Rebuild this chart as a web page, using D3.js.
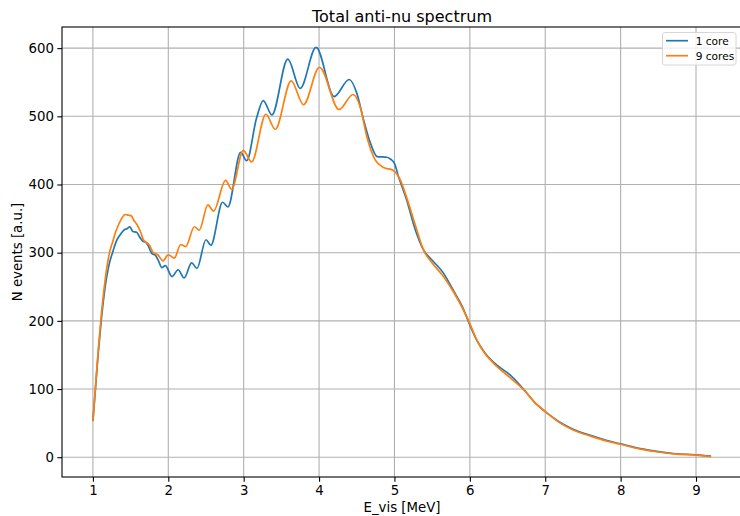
<!DOCTYPE html>
<html>
<head>
<meta charset="utf-8">
<script src="https://cdn.jsdelivr.net/npm/d3@7"></script>
<style>
  body { margin: 0; background: #fff; }
  svg { display: block; }
  text { font-family: "DejaVu Sans", sans-serif; fill: #000; }
</style>
</head>
<body>
<svg id="chart" width="740" height="516"></svg>
<script>
// Visible energy (MeV) and event counts for the single-core spectrum
const energyOneCore = [
  1.00, 1.03, 1.07, 1.11, 1.16, 1.22, 1.26, 1.32, 1.36, 1.42, 1.45, 1.49, 1.53, 1.58, 1.62,
  1.66, 1.70, 1.73, 1.78, 1.83, 1.87, 1.915, 1.96, 2.05, 2.13, 2.21, 2.31, 2.38, 2.50,
  2.565, 2.72, 2.79, 2.96, 3.04, 3.17, 3.26, 3.374, 3.585, 3.75, 3.96, 4.20, 4.40, 4.50,
  4.59, 4.68, 4.77, 4.90, 4.95, 5.00, 5.05, 5.16, 5.275, 5.385, 5.50, 5.65, 5.78, 5.90,
  6.00, 6.09, 6.20, 6.36, 6.53, 6.71, 6.89, 7.00, 7.20, 7.37, 7.60, 7.82, 8.00, 8.26,
  8.48, 8.70, 9.00, 9.20
];
const eventsOneCore = [
  53, 95, 152, 200, 248, 285, 300, 319, 326, 334, 335, 338, 331, 330, 323,
  317, 315, 311, 299, 296, 288, 278, 281, 265, 275, 263, 285, 277, 319,
  311, 374, 367, 447, 435, 497, 523, 502, 584, 541, 601, 529, 554, 534,
  495, 461, 441, 440, 437, 431, 413, 378, 334, 304, 289, 270, 245, 221,
  194, 172, 153, 135, 121, 100, 77, 67, 51, 41, 32, 24.5, 19.5, 12.5,
  8.5, 5.5, 3.5, 1.5
];

// Visible energy (MeV) and event counts for the nine-core spectrum
const energyNineCores = [
  1.00, 1.03, 1.07, 1.11, 1.16, 1.22, 1.26, 1.30, 1.34, 1.38, 1.43, 1.47, 1.51, 1.54, 1.58,
  1.63, 1.67, 1.71, 1.75, 1.80, 1.86, 1.93, 2.00, 2.08, 2.165, 2.23, 2.347, 2.41, 2.525,
  2.60, 2.76, 2.84, 2.995, 3.105, 3.295, 3.418, 3.63, 3.793, 4.005, 4.265, 4.45, 4.545,
  4.634, 4.744, 4.854, 4.98, 5.076, 5.164, 5.275, 5.385, 5.50, 5.65, 5.78, 5.90, 6.00,
  6.09, 6.20, 6.36, 6.53, 6.71, 6.89, 7.00, 7.20, 7.37, 7.60, 7.82, 8.00, 8.26, 8.48,
  8.70, 9.00, 9.20
];
const eventsNineCores = [
  53, 97, 156, 207, 258, 300, 315, 330, 341, 350, 356, 355, 354, 348, 342,
  331, 319, 315, 311, 300, 297, 288, 297, 292, 312, 309, 338, 333, 370,
  361, 406, 393, 450, 433, 503, 481, 552, 517, 572, 510, 532, 514,
  470, 436, 425, 421, 407, 380, 341, 304, 285, 265, 243, 219, 196,
  172, 152, 133, 117, 99.5, 77, 67, 50, 40, 31, 23.5, 19, 12, 8,
  5, 3, 1
];

const xTicks = [1, 2, 3, 4, 5, 6, 7, 8, 9];
const yTicks = [0, 100, 200, 300, 400, 500, 600];
const seriesNames = ["1 core", "9 cores"];
const seriesColors = ["#1f77b4", "#ff7f0e"];

const series = [
  { name: seriesNames[0], color: seriesColors[0],
    points: energyOneCore.map((e, i) => [e, eventsOneCore[i]]) },
  { name: seriesNames[1], color: seriesColors[1],
    points: energyNineCores.map((e, i) => [e, eventsNineCores[i]]) }
];

const plot = { left: 62, top: 27, right: 742, bottom: 477 };
const svg = d3.select("#chart");

const x = d3.scaleLinear().domain([0.59, 9.61]).range([plot.left, plot.right]);
const y = d3.scaleLinear().domain([-29, 631]).range([plot.bottom, plot.top]);

// Grid
const grid = svg.append("g").attr("stroke", "#b0b0b0").attr("stroke-width", 1.1);
grid.selectAll(".vx").data(xTicks).join("line")
  .attr("x1", d => x(d)).attr("x2", d => x(d))
  .attr("y1", plot.top).attr("y2", plot.bottom);
grid.selectAll(".hy").data(yTicks).join("line")
  .attr("x1", plot.left).attr("x2", plot.right)
  .attr("y1", d => y(d)).attr("y2", d => y(d));

// Spectrum lines
svg.append("clipPath").attr("id", "plot-clip").append("rect")
  .attr("x", plot.left).attr("y", plot.top)
  .attr("width", plot.right - plot.left).attr("height", plot.bottom - plot.top);

const line = d3.line()
  .x(d => x(d[0])).y(d => y(d[1]))
  .curve(d3.curveMonotoneX);

svg.append("g").attr("clip-path", "url(#plot-clip)")
  .selectAll("path").data(series).join("path")
  .attr("d", d => line(d.points))
  .attr("fill", "none")
  .attr("stroke", d => d.color)
  .attr("stroke-width", 1.7)
  .attr("stroke-linejoin", "round");

// Axes
const xAxis = svg.append("g")
  .attr("transform", `translate(0,${plot.bottom})`)
  .call(d3.axisBottom(x).tickValues(xTicks).tickFormat(d3.format("d"))
    .tickSize(4.7).tickPadding(3.5));
const yAxis = svg.append("g")
  .attr("transform", `translate(${plot.left},0)`)
  .call(d3.axisLeft(y).tickValues(yTicks).tickFormat(d3.format("d"))
    .tickSize(4.7).tickPadding(3.3));
[xAxis, yAxis].forEach(a => {
  a.select(".domain").remove();
  a.selectAll(".tick line").attr("stroke", "#000").attr("stroke-width", 1.1);
  a.selectAll(".tick text").attr("font-size", "13.3px")
    .attr("font-family", "DejaVu Sans, sans-serif").attr("fill", "#000");
});

// Spines
const spines = svg.append("g").attr("stroke", "#000").attr("stroke-width", 1.1)
  .attr("fill", "none");
spines.append("rect")
  .attr("x", plot.left).attr("y", plot.top)
  .attr("width", plot.right - plot.left).attr("height", plot.bottom - plot.top);

// Titles
svg.append("text")
  .attr("x", (plot.left + plot.right) / 2).attr("y", 21.5)
  .attr("text-anchor", "middle").attr("font-size", "16px")
  .text("Total anti-nu spectrum");
svg.append("text")
  .attr("x", (plot.left + plot.right) / 2).attr("y", 512)
  .attr("text-anchor", "middle").attr("font-size", "13.3px")
  .text("E_vis [MeV]");
svg.append("text")
  .attr("transform", `translate(21.5,${(plot.top + plot.bottom) / 2}) rotate(-90)`)
  .attr("text-anchor", "middle").attr("font-size", "13.3px")
  .text("N events [a.u.]");

// Legend
const legend = svg.append("g");
legend.append("rect")
  .attr("x", 662.5).attr("y", 32.5).attr("width", 73.5).attr("height", 32.5)
  .attr("rx", 2.5).attr("fill", "#fff").attr("fill-opacity", 0.8)
  .attr("stroke", "#d6d6d6").attr("stroke-width", 1);
const items = legend.selectAll(".item").data(series).join("g")
  .attr("transform", (d, i) => `translate(0,${40.7 + i * 15})`);
items.append("line")
  .attr("x1", 666).attr("x2", 688).attr("y1", 0).attr("y2", 0)
  .attr("stroke", d => d.color).attr("stroke-width", 1.7);
items.append("text")
  .attr("x", 695.7).attr("y", 0).attr("dy", "0.36em")
  .attr("font-size", "10.6px")
  .text(d => d.name);
</script>
</body>
</html>
